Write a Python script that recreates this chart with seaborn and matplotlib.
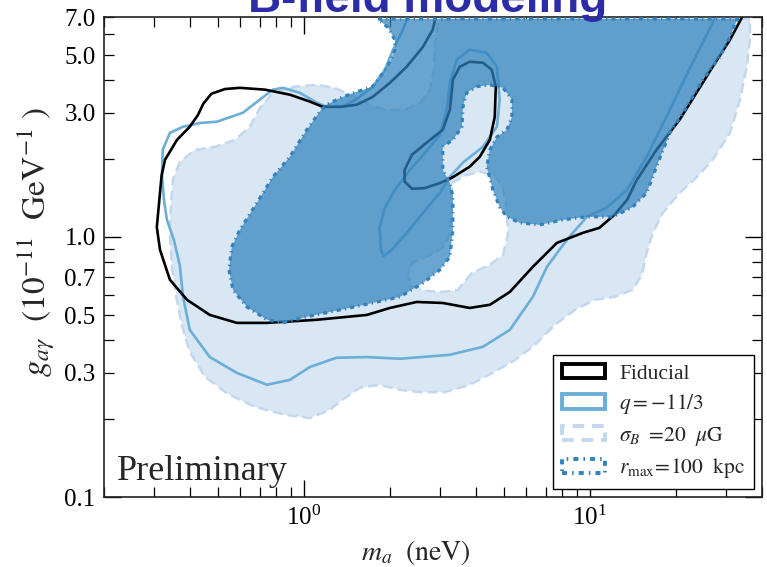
import numpy as np
import matplotlib
matplotlib.use("Agg")
import matplotlib.pyplot as plt
import seaborn as sns
from matplotlib.patches import Patch
from matplotlib.ticker import FixedLocator, FuncFormatter, LogLocator, NullFormatter

# ---------------- data ----------------
# Fiducial contour: outer curve (m_a in neV, g in 1e-11 GeV^-1)
fid_ma = [2.92, 2.82, 2.61, 2.29, 2.00, 1.74, 1.53, 1.34, 1.165, 1.05, 0.893, 0.731, 0.597,
          0.530, 0.475, 0.445, 0.426, 0.399, 0.360, 0.327, 0.318, 0.314, 0.306, 0.314, 0.340, 0.390,
          0.469, 0.583, 0.743, 1.11, 1.66, 2.00, 2.48, 3.06, 3.80, 4.47, 5.25, 6.32, 7.67,
          9.45, 10.8, 12.2, 13.5, 14.6, 17.1, 20.6, 24.2, 26.9, 30.9, 34.8]
fid_g = [7.3, 6.25, 5.38, 4.51, 3.91, 3.45, 3.22, 3.16, 3.16, 3.31, 3.52, 3.68, 3.74,
         3.70, 3.55, 3.25, 2.94, 2.65, 2.36, 1.98, 1.72, 1.48, 1.09, 0.891, 0.684, 0.573,
         0.501, 0.467, 0.467, 0.480, 0.501, 0.533, 0.562, 0.557, 0.533, 0.548, 0.614, 0.767, 0.948,
         1.036, 1.083, 1.216, 1.388, 1.656, 2.16, 2.82, 3.74, 4.51, 5.72, 7.3]
# Fiducial contour: inner island
fid_isl_ma = [3.29, 3.80, 4.12, 4.47, 4.65, 4.69, 4.54, 4.23, 3.80, 3.51, 3.32, 3.24, 3.06,
              2.71, 2.39, 2.25, 2.25, 2.39, 2.65, 2.99, 3.29]
fid_isl_g = [1.686, 1.86, 2.03, 2.36, 2.89, 3.78, 4.39, 4.67, 4.71, 4.51, 4.02, 3.08, 2.58,
             2.32, 2.07, 1.81, 1.63, 1.53, 1.54, 1.61, 1.686]

# q = -11/3 contour: outer curve
q_ma = [2.35, 2.22, 2.05, 1.92, 1.74, 1.55, 1.39, 1.20, 1.11, 0.968, 0.845, 0.779, 0.702,
        0.612, 0.496, 0.433, 0.378, 0.340, 0.321, 0.319, 0.324, 0.332, 0.351, 0.368, 0.378,
        0.399, 0.469, 0.583, 0.743, 0.893, 1.05, 1.30, 1.66, 2.17, 3.24, 4.23, 5.25, 6.32,
        7.08, 8.31, 9.77, 11.5, 13.5, 15.8, 19.05, 22.7, 26.9, 27.6]
q_g = [7.33, 6.25, 5.24, 4.39, 3.78, 3.42, 3.19, 3.16, 3.28, 3.58, 3.74, 3.68, 3.37,
       3.00, 2.77, 2.74, 2.65, 2.51, 2.16, 1.73, 1.388, 1.162, 0.974, 0.780, 0.588,
       0.439, 0.345, 0.300, 0.270, 0.282, 0.316, 0.343, 0.345, 0.340, 0.352, 0.378, 0.439, 0.588,
       0.767, 0.974, 1.194, 1.30, 1.516, 2.03, 3.08, 4.59, 6.65, 7.33]
# q = -11/3 contour: inner island
q_isl_ma = [1.86, 1.84, 1.92, 2.08, 2.35, 2.65, 2.99, 3.16, 3.24, 3.43, 3.80, 4.36, 4.73,
            4.84, 4.73, 4.23, 3.60, 3.24, 2.99, 2.61, 2.29, 2.03, 1.90, 1.86]
q_isl_g = [0.891, 1.083, 1.293, 1.516, 1.81, 2.10, 2.47, 3.08, 3.91, 4.80, 5.24, 5.10, 4.51,
           3.37, 2.65, 2.22, 1.93, 1.70, 1.476, 1.237, 1.036, 0.891, 0.845, 0.891]

# sigma_B = 20 muG region: outer boundary and hole
sig_ma = [2.99, 36.3, 36.3, 35.4, 33.5, 30.9, 26.9, 23.7, 20.6, 18.0, 16.6, 15.8, 15.2, 14.1,
          12.2, 10.4, 8.87, 7.55, 6.42, 5.47, 4.65, 3.80, 3.11, 2.55, 2.17, 1.84, 1.57, 1.39,
          1.23, 1.05, 0.858, 0.674, 0.542, 0.451, 0.399, 0.374, 0.357, 0.345, 0.340, 0.343,
          0.348, 0.368, 0.416, 0.489, 0.574, 0.647, 0.702, 0.779, 0.930, 1.12, 1.28, 1.45,
          1.70, 1.92, 2.25, 2.55, 2.76, 2.85, 2.87, 2.94]
sig_g = [6.9, 6.9, 5.72, 4.51, 3.37, 2.51, 1.98, 1.70, 1.476, 1.237, 1.036, 0.868, 0.714, 0.625,
         0.588, 0.573, 0.524, 0.459, 0.384, 0.336, 0.303, 0.270, 0.253, 0.253, 0.258, 0.270,
         0.263, 0.240, 0.216, 0.201, 0.207, 0.222, 0.249, 0.290, 0.361, 0.459, 0.598, 0.780,
         1.018, 1.328, 1.656, 1.94, 2.16, 2.22, 2.36, 2.65, 3.13, 3.58, 3.78, 3.84, 3.74, 3.52,
         3.22, 3.08, 3.08, 3.28, 3.68, 4.39, 5.48, 6.54]
sig_hole_ma = [3.29, 3.66, 4.12, 4.65, 4.97, 5.13, 5.17, 4.97, 4.47, 3.87, 3.45, 3.06, 2.71,
               2.40, 2.31, 2.40, 2.69, 3.06, 3.24, 3.29]
sig_hole_g = [1.61, 1.72, 1.778, 1.73, 1.54, 1.27, 1.018, 0.853, 0.780, 0.727, 0.625, 0.614,
              0.619, 0.642, 0.714, 0.794, 0.838, 0.907, 1.018, 1.27]

# r_max = 100 kpc region
rmax_ma = [1.815, 33.5, 32.7, 30.9, 28.5, 24.8, 21.8, 19.05, 17.1, 15.8, 14.1, 12.0, 9.77, 8.05,
           6.68, 5.69, 5.13, 4.84, 4.58, 4.36, 4.47, 4.73, 5.13, 5.34, 5.34, 4.97, 4.47, 4.03,
           3.71, 3.60, 3.57, 3.32, 3.06, 3.06, 3.24, 3.32, 3.32, 3.24, 2.99, 2.61, 2.17, 1.74,
           1.34, 1.024, 0.845, 0.743, 0.632, 0.565, 0.547, 0.560, 0.597, 0.685, 0.779, 0.893,
           1.024, 1.137, 1.20, 1.34, 1.53, 1.74, 1.87, 2.00, 2.08, 2.08, 1.97]
rmax_g = [6.88, 6.88, 6.83, 5.88, 4.92, 4.02, 3.16, 2.51, 1.86, 1.476, 1.30, 1.194, 1.194, 1.162,
          1.112, 1.132, 1.194, 1.30, 1.516, 1.86, 2.16, 2.42, 2.58, 2.89, 3.37, 3.74, 3.84, 3.78,
          3.58, 3.16, 2.65, 2.36, 2.22, 1.81, 1.61, 1.425, 1.064, 0.838, 0.747, 0.665, 0.588,
          0.557, 0.524, 0.493, 0.467, 0.480, 0.538, 0.625, 0.747, 0.916, 1.064, 1.351, 1.70,
          2.03, 2.58, 3.03, 3.22, 3.42, 3.61, 3.78, 4.20, 4.71, 5.24, 5.72, 6.37]

# axis ticks / labels
xlim = (0.2, 40)
ylim = (0.1, 7.0)
y_major = [0.1, 1.0]
y_minor = [0.2, 0.3, 0.4, 0.5, 0.6, 0.7, 0.8, 0.9, 2.0, 3.0, 4.0, 5.0, 6.0, 7.0]
y_minor_labelled = [0.3, 0.5, 0.7, 3.0, 5.0, 7.0]
legend_labels = ["Fiducial", r"$q=-11/3$", r"$\sigma_B\ =\!20\ \ \mu\mathrm{G}$",
                 r"$r_{\rm max}\!=\!100\ \ \mathrm{kpc}$"]

# ---------------- style ----------------
sns.set_style("ticks")
plt.rcParams["font.family"] = ["Liberation Serif", "DejaVu Serif"]
plt.rcParams["mathtext.fontset"] = "stix"

c_light = "#d9e6f3"
c_light_edge = "#c3d8ee"
c_q = "#6baed6"
c_dark = "#3182bd"
dark_ls = (0, (1.3, 1.3, 0.4, 1.3))

fig = plt.figure(figsize=(7.67, 5.67), dpi=100)
ax = fig.add_axes([104 / 767, 70 / 567, 658 / 767, 480 / 567])
ax.set_xscale("log")
ax.set_yscale("log")


def closed(a):
    return list(a) + [a[0]]


# sigma_B region
ax.fill(sig_ma, sig_g, color=c_light, lw=0, zorder=1)
ax.fill(sig_hole_ma, sig_hole_g, color="white", lw=0, zorder=1.1)
ax.plot(closed(sig_ma), closed(sig_g), ls=(0, (4, 2)), color=c_light_edge, lw=1.8, zorder=1.2)
ax.plot(closed(sig_hole_ma), closed(sig_hole_g), ls=(0, (4, 2)), color=c_light_edge, lw=1.8, zorder=1.2)

# contour lines
sns.lineplot(x=q_ma, y=q_g, sort=False, estimator=None, color=c_q, lw=1.9, ax=ax, zorder=2)
sns.lineplot(x=q_isl_ma, y=q_isl_g, sort=False, estimator=None, color=c_q, lw=1.9, ax=ax, zorder=2)
sns.lineplot(x=fid_ma, y=fid_g, sort=False, estimator=None, color="black", lw=1.9, ax=ax, zorder=2.1)
sns.lineplot(x=fid_isl_ma, y=fid_isl_g, sort=False, estimator=None, color="black", lw=1.9, ax=ax, zorder=2.1)

# r_max region (semi-transparent over everything)
ax.fill(rmax_ma, rmax_g, color=c_dark, alpha=0.72, lw=0, zorder=3)
ax.plot(closed(rmax_ma), closed(rmax_g), ls=dark_ls, color=c_dark, lw=2.3, zorder=3.1)

ax.set_xlim(*xlim)
ax.set_ylim(*ylim)

# ticks
ax.xaxis.set_major_locator(LogLocator(base=10))
ax.xaxis.set_minor_locator(LogLocator(base=10, subs=np.arange(2, 10)))
ax.xaxis.set_minor_formatter(NullFormatter())
ax.yaxis.set_major_locator(FixedLocator(y_major))
ax.yaxis.set_major_formatter(FuncFormatter(lambda v, p: f"{v:.1f}"))
ax.yaxis.set_minor_locator(FixedLocator(y_minor))
ax.yaxis.set_minor_formatter(FuncFormatter(
    lambda v, p: f"{v:.1f}" if any(abs(v - t) < 1e-6 for t in y_minor_labelled) else ""))
ax.tick_params(which="both", direction="in", top=True, right=True, labelsize=18, colors="black")
ax.tick_params(which="major", length=12, width=1.0, pad=6)
ax.tick_params(which="minor", length=7, width=0.9, pad=6)
for s in ax.spines.values():
    s.set_linewidth(1.2)
    s.set_color("#222222")

ax.set_xlabel(r"$m_a\ \ (\mathrm{neV})$", fontsize=20)
ax.set_ylabel(r"$g_{a\gamma}\ \ (10^{-11}\ \ \mathrm{GeV}^{-1}\ )$", fontsize=24)
ax.xaxis.set_label_coords(0.474, -0.085)
ax.yaxis.set_label_coords(-0.072, 0.531)

ax.text(0.02, 0.035, "Preliminary", transform=ax.transAxes, fontsize=26,
        ha="left", va="baseline", zorder=5)

handles = [
    Patch(facecolor="white", edgecolor="black", lw=2.8),
    Patch(facecolor="white", edgecolor=c_q, lw=2.8),
    Patch(facecolor="white", edgecolor=c_light_edge, lw=2.8, ls=(0, (3, 2))),
    Patch(facecolor="white", edgecolor=c_dark, lw=2.8, ls=dark_ls),
]
leg = ax.legend(handles=handles, labels=legend_labels, loc="lower right", fontsize=15.5,
                frameon=True, fancybox=False, framealpha=1, edgecolor="black",
                handlelength=2.0, handleheight=0.65, handletextpad=0.65,
                labelspacing=0.4, borderaxespad=0.35, borderpad=0.42)
leg.get_frame().set_linewidth(1.0)
leg.set_zorder(10)

fig.text(428 / 767, 1 - 12 / 567, "B-field modeling", ha="center", va="baseline",
         fontsize=33, fontweight="bold", color="#2b2ca6",
         family=["Liberation Sans", "DejaVu Sans"])

fig.savefig("out.png", dpi=100)
